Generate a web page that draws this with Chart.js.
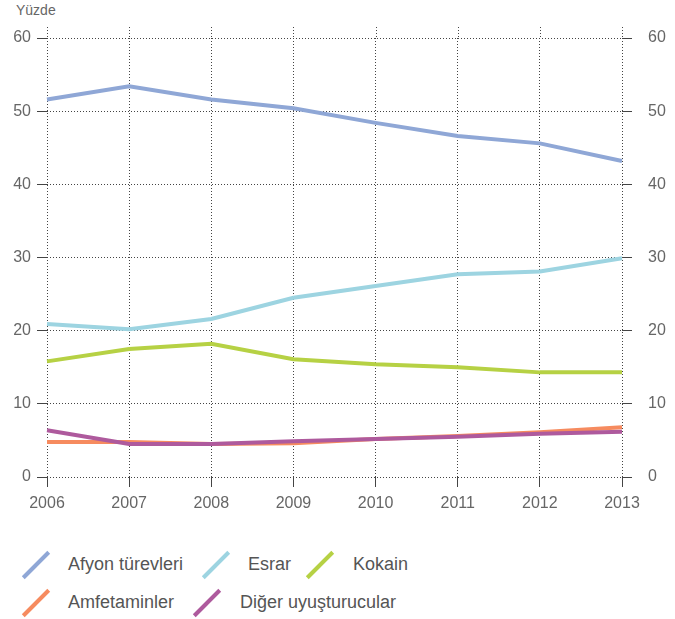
<!DOCTYPE html>
<html>
<head>
<meta charset="utf-8">
<script src="https://cdn.jsdelivr.net/npm/chart.js@4.4.0/dist/chart.umd.min.js"></script>
<style>
  body { margin: 0; background: #fff; font-family: "Liberation Sans", sans-serif; }
  #wrap { position: relative; width: 675px; height: 619px; }
  #box { position: absolute; left: 0; top: 0; width: 675px; height: 520px; }
  #unit { position: absolute; left: 16px; top: 2px; font-size: 14px; color: #666; }
  .leg { position: absolute; font-size: 18px; color: #555; white-space: nowrap; }
  .ico { position: absolute; width: 36px; height: 4px; transform: rotate(-45deg); transform-origin: center; }
</style>
</head>
<body>
<div id="wrap">
  <div id="unit">Yüzde</div>
  <div id="box"><canvas id="lineChart"></canvas></div>
  <div id="legend"></div>
</div>
<script>
const years = ['2006', '2007', '2008', '2009', '2010', '2011', '2012', '2013'];
const afyon = [51.6, 53.4, 51.6, 50.4, 48.4, 46.6, 45.6, 43.2];
const esrar = [20.9, 20.2, 21.6, 24.5, 26.1, 27.7, 28.1, 29.9];
const kokain = [15.8, 17.5, 18.2, 16.1, 15.4, 15.0, 14.3, 14.3];
const amfetamin = [4.8, 4.8, 4.5, 4.6, 5.2, 5.6, 6.1, 6.8];
const diger = [6.4, 4.5, 4.5, 4.9, 5.2, 5.5, 5.9, 6.2];
const yTicks = [0, 10, 20, 30, 40, 50, 60];

const names = ['Afyon türevleri', 'Esrar', 'Kokain', 'Amfetaminler', 'Diğer uyuşturucular'];
const colors = ['#8fa7d6', '#9dd4e1', '#b6d144', '#f68b5f', '#ae5a9d'];
const series = [afyon, esrar, kokain, amfetamin, diger];
const drawOrder = [1, 2, 3, 4, 0];

// legend positions (icon left, text left, row)
const legPos = [[22, 68, 0], [202, 248, 0], [306, 353, 0], [22, 68, 1], [193, 240, 1]];
const legend = document.getElementById('legend');
names.forEach((n, i) => {
  const [ix, tx, row] = legPos[i];
  const cy = row === 0 ? 565 : 603;
  const ico = document.createElement('div');
  ico.className = 'ico';
  ico.style.background = colors[i];
  ico.style.left = (ix - 4) + 'px';
  ico.style.top = (cy - 2) + 'px';
  legend.appendChild(ico);
  const t = document.createElement('div');
  t.className = 'leg';
  t.textContent = n;
  t.style.left = tx + 'px';
  t.style.top = (cy - 11) + 'px';
  legend.appendChild(t);
});

// extend vertical grid lines a little above the top
const topExt = {
  id: 'topExt',
  beforeDatasetsDraw(chart) {
    const ctx = chart.ctx;
    const x = chart.scales.x;
    const top = chart.chartArea.top;
    ctx.save();
    ctx.strokeStyle = '#444';
    ctx.lineWidth = 1;
    ctx.setLineDash([1, 2]);
    years.forEach((y, i) => {
      const px = Math.round(x.getPixelForValue(i)) + 0.5;
      ctx.beginPath();
      ctx.moveTo(px, top - 11);
      ctx.lineTo(px, top);
      ctx.stroke();
    });
    ctx.restore();
  }
};

const tickFont = { size: 16, family: 'Liberation Sans' };

const ctx = document.getElementById('lineChart').getContext('2d');
new Chart(ctx, {
  type: 'line',
  data: {
    labels: years,
    datasets: series.map((d, i) => ({
      label: names[i],
      data: d,
      borderColor: colors[i],
      backgroundColor: colors[i],
      borderWidth: 4,
      pointRadius: 0,
      tension: 0,
      order: drawOrder[i],
      yAxisID: 'y'
    }))
  },
  options: {
    responsive: true,
    maintainAspectRatio: false,
    animation: false,
    layout: { padding: { top: 38, left: 0, right: 0, bottom: 0 } },
    plugins: { legend: { display: false }, tooltip: { enabled: false } },
    scales: {
      x: {
        offset: false,
        grid: { color: '#444', tickLength: 10 },
        border: { display: false, dash: [1, 2] },
        ticks: { color: '#666', font: tickFont, padding: 7, maxRotation: 0 },
        afterFit(s) { s.height = 43; }
      },
      y: {
        position: 'left',
        min: 0, max: 60,
        afterBuildTicks(s) { s.ticks = yTicks.map(v => ({ value: v })); },
        grid: { color: '#444', tickLength: 10 },
        border: { display: false, dash: [1, 2] },
        ticks: { color: '#666', font: tickFont, padding: 6 },
        afterFit(s) { s.width = 47; }
      },
      y2: {
        position: 'right',
        min: 0, max: 60,
        afterBuildTicks(s) { s.ticks = yTicks.map(v => ({ value: v })); },
        grid: { drawOnChartArea: false, drawTicks: true, color: '#444', tickLength: 10 },
        border: { display: false, dash: [1, 2] },
        ticks: { color: '#666', font: tickFont, padding: 16 },
        afterFit(s) { s.width = 53; }
      }
    }
  },
  plugins: [topExt]
});
</script>
</body>
</html>
